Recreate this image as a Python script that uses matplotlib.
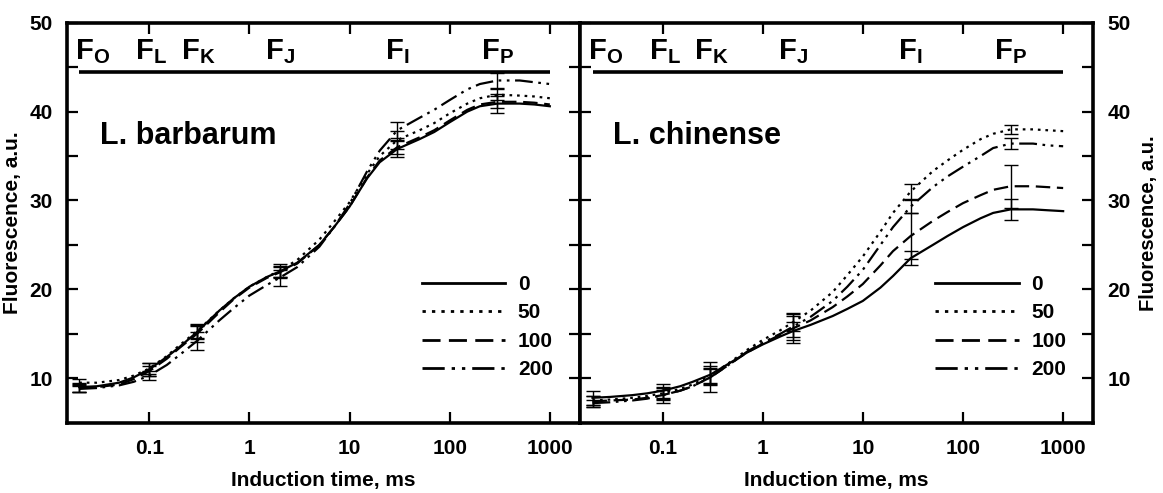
import matplotlib
matplotlib.use("Agg")
import matplotlib.pyplot as plt
import numpy as np

plt.rcParams['font.family'] = ['Liberation Sans', 'DejaVu Sans']
plt.rcParams['font.weight'] = 'bold'
plt.rcParams['mathtext.fontset'] = 'custom'
plt.rcParams['mathtext.rm'] = 'Liberation Sans:bold'
plt.rcParams['mathtext.bf'] = 'Liberation Sans:bold'
plt.rcParams['mathtext.it'] = 'Liberation Sans:bold'

# Induction time, ms
time_ms = [0.02, 0.03, 0.05, 0.07, 0.1, 0.15, 0.2, 0.3, 0.5, 0.7, 1, 1.5, 2, 3, 5,
           7, 10, 15, 20, 30, 50, 70, 100, 150, 200, 300, 500, 700, 1000]

treatments = ["0", "50", "100", "200"]

# L. barbarum fluorescence, a.u.
barbarum = {
    "0":   [9.0, 9.1, 9.5, 10.1, 11.0, 12.4, 13.5, 15.2, 17.6, 19.0, 20.3, 21.4, 22.0, 23.0, 25.0,
            27.0, 29.3, 32.5, 34.3, 35.8, 36.9, 37.7, 38.8, 40.0, 40.6, 40.9, 40.9, 40.8, 40.6],
    "50":  [9.5, 9.5, 9.8, 10.3, 11.1, 12.5, 13.7, 15.3, 17.6, 19.0, 20.3, 21.4, 22.1, 23.3, 25.6,
            27.6, 29.8, 33.0, 35.0, 36.8, 37.9, 38.7, 39.8, 40.9, 41.5, 41.9, 41.8, 41.7, 41.5],
    "100": [8.9, 9.0, 9.3, 9.9, 10.8, 12.2, 13.4, 15.0, 17.4, 18.9, 20.2, 21.3, 21.9, 22.9, 25.0,
            27.0, 29.3, 32.6, 34.5, 36.0, 37.1, 37.9, 39.0, 40.2, 40.8, 41.1, 41.1, 41.0, 40.8],
    "200": [8.8, 8.9, 9.2, 9.6, 10.3, 11.5, 12.6, 14.2, 16.5, 17.9, 19.3, 20.5, 21.3, 22.5, 24.8,
            27.0, 29.6, 33.3, 35.6, 37.9, 39.3, 40.2, 41.3, 42.5, 43.1, 43.5, 43.5, 43.3, 43.1],
}

# L. chinense fluorescence, a.u.
chinense = {
    "0":   [7.8, 7.9, 8.1, 8.3, 8.6, 9.1, 9.6, 10.4, 11.9, 12.9, 13.8, 14.7, 15.3, 16.0, 17.0,
            17.8, 18.7, 20.2, 21.5, 23.5, 25.0, 26.0, 27.0, 28.0, 28.6, 29.0, 29.0, 28.9, 28.8],
    "50":  [7.5, 7.6, 7.8, 8.0, 8.3, 8.8, 9.3, 10.3, 12.0, 13.2, 14.3, 15.4, 16.3, 17.6, 19.7,
            21.6, 23.7, 26.5, 28.6, 31.0, 33.3, 34.5, 35.7, 36.9, 37.5, 38.0, 38.0, 37.9, 37.8],
    "100": [7.4, 7.5, 7.6, 7.8, 8.1, 8.6, 9.1, 10.1, 11.8, 12.9, 13.9, 14.9, 15.6, 16.5, 18.0,
            19.2, 20.6, 22.7, 24.3, 26.0, 27.7, 28.7, 29.7, 30.6, 31.2, 31.6, 31.6, 31.5, 31.4],
    "200": [7.2, 7.3, 7.5, 7.7, 8.1, 8.6, 9.1, 10.1, 11.8, 13.0, 14.0, 15.0, 15.8, 16.9, 18.7,
            20.3, 22.2, 25.0, 27.0, 29.3, 31.5, 32.7, 33.8, 35.0, 35.9, 36.4, 36.4, 36.2, 36.1],
}

# Standard errors at the OJIP phase points (0.02, 0.1, 0.3, 2, 30, 300 ms)
phase_times = [0.02, 0.1, 0.3, 2, 30, 300]
barbarum_err = {
    "0":   [0.5, 0.7, 0.8, 0.6, 0.9, 1.1],
    "50":  [0.4, 0.6, 0.8, 0.7, 1.0, 0.6],
    "100": [0.5, 0.6, 0.9, 0.6, 0.8, 0.7],
    "200": [0.4, 0.5, 1.0, 0.9, 0.9, 0.8],
}
chinense_err = {
    "0":   [0.8, 0.8, 1.0, 1.0, 0.8, 1.2],
    "50":  [0.5, 0.6, 0.8, 1.0, 0.8, 0.5],
    "100": [0.6, 0.9, 1.7, 1.6, 2.6, 2.4],
    "200": [0.4, 0.6, 0.9, 1.2, 0.7, 0.6],
}

# Phase labels along the top band
phase_letters = ["O", "L", "K", "J", "I", "P"]
phase_label_x = [0.027, 0.105, 0.31, 2.0, 30, 300]
band_y = 44.5
band_x = [0.02, 1000]

xticks = [0.1, 1, 10, 100, 1000]
xticklabels = ["0.1", "1", "10", "100", "1000"]
yticks = [10, 15, 20, 25, 30, 35, 40, 45, 50]
yticklabels = ["10", "", "20", "", "30", "", "40", "", "50"]

styles = {
    "0": "-",
    "50": (0, (1.2, 2.2)),
    "100": (0, (6.5, 3)),
    "200": (0, (8, 2.5, 1.2, 2.5, 1.2, 2.5)),
}

fig = plt.figure(figsize=(11.63, 4.93), dpi=100)
ax1 = fig.add_axes([66.7 / 1163, 1 - 422.7 / 493, 513.3 / 1163, 400 / 493])
ax2 = fig.add_axes([580 / 1163, 1 - 422.7 / 493, 513.3 / 1163, 400 / 493])

idx = [time_ms.index(p) for p in phase_times]

for ax, data, errs, title in [(ax1, barbarum, barbarum_err, "L. barbarum"),
                              (ax2, chinense, chinense_err, "L. chinense")]:
    for key in treatments:
        ax.plot(time_ms, data[key], color="black", lw=1.6, linestyle=styles[key], label=key)
        ax.errorbar(phase_times, [data[key][i] for i in idx], yerr=errs[key],
                    fmt="none", ecolor="black", elinewidth=1.0, capsize=5, capthick=1.0)
    ax.plot(band_x, [band_y, band_y], color="black", lw=2.6, solid_capstyle="butt")
    for letter, xp in zip(phase_letters, phase_label_x):
        ax.text(xp, band_y + 0.6, r"$\mathbf{F}_{\mathbf{%s}}$" % letter, fontsize=21,
                ha="center", va="bottom")
    ax.text(0.032, 37.3, title, fontsize=22, fontweight="bold", ha="left", va="center")

    ax.set_xscale("log")
    ax.set_xlim(0.015, 2000)
    ax.set_ylim(5, 50)
    ax.xaxis.set_major_locator(matplotlib.ticker.FixedLocator(xticks))
    ax.xaxis.set_minor_locator(matplotlib.ticker.NullLocator())
    ax.set_xticklabels(xticklabels)
    ax.set_yticks(yticks)
    ax.set_yticklabels(yticklabels)
    ax.tick_params(axis="both", which="both", direction="in", length=8, width=1.6,
                   top=True, right=True, labelsize=15, pad=10)
    ax.tick_params(axis="x", pad=12)
    for sp in ax.spines.values():
        sp.set_linewidth(2.6)
    ax.set_xlabel("Induction time, ms", fontsize=15, fontweight="bold", labelpad=9)
    leg = ax.legend(loc="upper left", bbox_to_anchor=(0.672, 0.395), frameon=False,
                    handlelength=4.0, handletextpad=0.6, labelspacing=0.45, borderpad=0,
                    prop={"size": 15, "weight": "bold"})
    for line in leg.get_lines():
        line.set_linewidth(2.0)

ax1.set_ylabel("Fluorescence, a.u.", fontsize=15, fontweight="bold", labelpad=5)
ax2.tick_params(axis="y", labelleft=False, labelright=True)
ax2.yaxis.set_label_position("right")
ax2.set_ylabel("Fluorescence, a.u.", fontsize=14.5, fontweight="bold", labelpad=6,
               rotation=90)

fig.savefig("out.png", dpi=100)
